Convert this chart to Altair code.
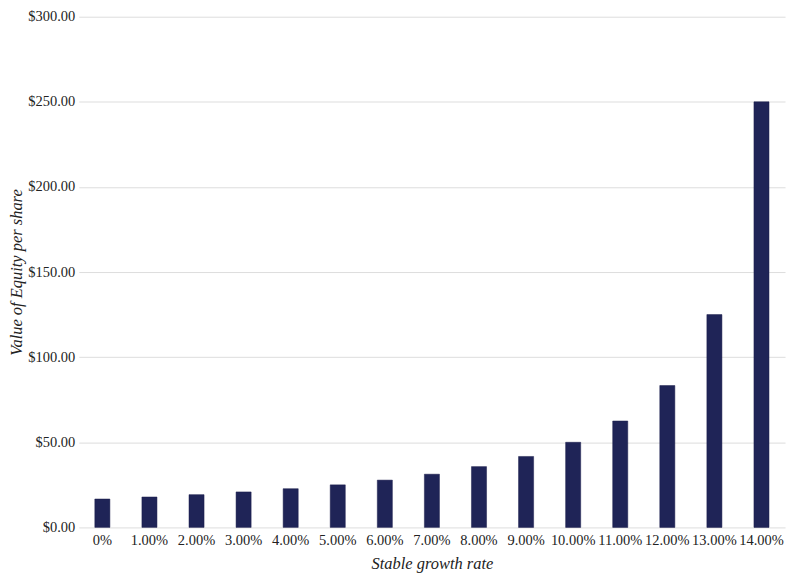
import altair as alt
import pandas as pd

growth_labels = ["0%", "1.00%", "2.00%", "3.00%", "4.00%", "5.00%", "6.00%", "7.00%",
                 "8.00%", "9.00%", "10.00%", "11.00%", "12.00%", "13.00%", "14.00%"]
equity_values = [16.67, 17.86, 19.23, 20.83, 22.73, 25.00, 27.78, 31.25,
                 35.71, 41.67, 50.00, 62.50, 83.33, 125.00, 250.00]

df = pd.DataFrame({"growth": growth_labels, "value": equity_values})

FONT = "Liberation Serif"

chart = alt.Chart(df).mark_bar(color="#1f2457", stroke="#1a1d4a", strokeWidth=0.5).encode(
    x=alt.X("growth:N", sort=growth_labels,
            scale=alt.Scale(paddingInner=0.68, paddingOuter=0.34),
            axis=alt.Axis(title="Stable growth rate", labelAngle=0, ticks=False, domain=False,
                          labelFontSize=14.5, labelPadding=6, titleFontSize=16.5, titleFontStyle="italic",
                          titleFontWeight="normal", titlePadding=9, labelColor="#222", titleColor="#222")),
    y=alt.Y("value:Q", scale=alt.Scale(domain=[0, 300]),
            axis=alt.Axis(title="Value of Equity per share", format="$,.2f", values=[0, 50, 100, 150, 200, 250, 300],
                          ticks=False, domain=False, labelFontSize=14.5, labelPadding=4,
                          titleFontSize=16.5, titleFontStyle="italic", titleFontWeight="normal",
                          titlePadding=3, gridColor="#dddddd", labelColor="#222", titleColor="#222")),
).properties(width=708, height=512, padding={"left": 0, "top": 0, "right": 7, "bottom": 5}
).configure(font=FONT).configure_view(stroke=None).configure_axisX(grid=False)

chart.save("out.html", embed_options={"renderer": "svg", "actions": False})
